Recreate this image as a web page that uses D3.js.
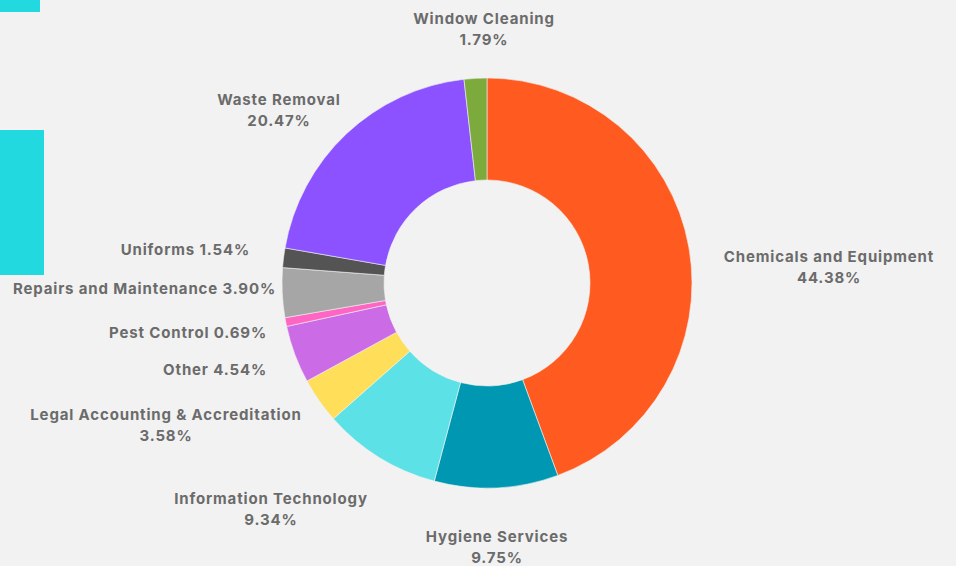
<!DOCTYPE html>
<html>
<head>
<meta charset="utf-8">
<script src="https://cdn.jsdelivr.net/npm/d3@7"></script>
<style>
  html, body { margin: 0; padding: 0; background: #f2f2f2; }
  svg { display: block; }
  .lbl { font-family: Inter, "Open Sans", sans-serif; font-weight: 700; font-size: 15px; letter-spacing: 0.85px; fill: #6b6b6b; }
</style>
</head>
<body>
<div class="displayArea"></div>
<script>
// data (clockwise from 12 o'clock)
var categories = ["Chemicals and Equipment", "Hygiene Services", "Information Technology",
    "Legal Accounting & Accreditation", "Other", "Pest Control", "Repairs and Maintenance",
    "Uniforms", "Waste Removal", "Window Cleaning"];
var shares = [44.38, 9.75, 9.34, 3.58, 4.54, 0.69, 3.90, 1.54, 20.47, 1.79];
var colors = ["#ff5a1f", "#0097b2", "#5ce1e6", "#ffde59", "#cb6ce6", "#ff66c4", "#a6a6a6",
    "#545454", "#8c52ff", "#7caa3d"];

var width = 956,
    height = 566,
    cx = 487, cy = 283, // donut centre
    outerR = 205,
    innerR = 103;

// where each label sits, relative to the donut centre (two-line labels are centred)
var labelLayout = {
    "Chemicals and Equipment": { dx: 342, dy: -21, anchor: "middle", split: true },
    "Hygiene Services": { dx: 10, dy: 259, anchor: "middle", split: true },
    "Information Technology": { dx: -216, dy: 221, anchor: "middle", split: true },
    "Legal Accounting & Accreditation": { dx: -321, dy: 137, anchor: "middle", split: true },
    "Other": { dx: -220, dy: 92, anchor: "end", split: false },
    "Pest Control": { dx: -220, dy: 55, anchor: "end", split: false },
    "Repairs and Maintenance": { dx: -211, dy: 11, anchor: "end", split: false },
    "Uniforms": { dx: -237, dy: -28, anchor: "end", split: false },
    "Waste Removal": { dx: -208, dy: -178, anchor: "middle", split: true },
    "Window Cleaning": { dx: -3, dy: -259, anchor: "middle", split: true }
};

var svg = d3.select(".displayArea")
    .append("svg")
    .attr("width", width)
    .attr("height", height);

svg.append("rect")
    .attr("width", width)
    .attr("height", height)
    .attr("fill", "#f2f2f2");

// cyan decorative blocks on the left edge
svg.append("rect").attr("x", 0).attr("y", 0).attr("width", 40).attr("height", 12).attr("fill", "#22d9e0");
svg.append("rect").attr("x", 0).attr("y", 130).attr("width", 44).attr("height", 145).attr("fill", "#22d9e0");

var pie = d3.pie()
    .sort(null)
    .value(function (d) { return d; });

var arc = d3.arc()
    .innerRadius(innerR)
    .outerRadius(outerR);

var arcs = pie(shares);

var g = svg.append("g")
    .attr("transform", `translate(${cx},${cy})`);

g.selectAll("path")
    .data(arcs)
    .enter()
    .append("path")
    .attr("d", arc)
    .attr("fill", function (d, i) { return colors[i]; })
    .attr("stroke", "#f2f2f2")
    .attr("stroke-width", 0.6);

var labels = g.selectAll("text.lbl")
    .data(arcs)
    .enter()
    .append("text")
    .attr("class", "lbl")
    .attr("text-anchor", function (d, i) { return labelLayout[categories[i]].anchor; })
    .attr("transform", function (d, i) {
        var l = labelLayout[categories[i]];
        return `translate(${l.dx},${l.dy})`;
    });

labels.each(function (d, i) {
    var t = d3.select(this),
        l = labelLayout[categories[i]],
        pct = shares[i].toFixed(2) + "%";
    if (l.split) {
        t.append("tspan").attr("x", 0).attr("dy", 0).text(categories[i]);
        t.append("tspan").attr("x", 0).attr("dy", 21).text(pct);
    } else {
        t.text(categories[i] + " " + pct);
    }
});
</script>
</body>
</html>
